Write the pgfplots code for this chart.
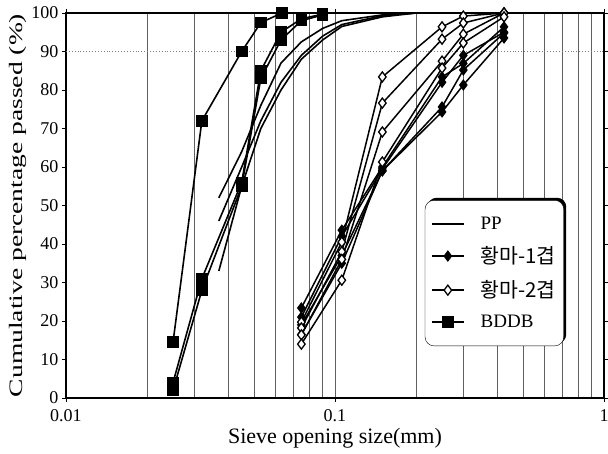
\documentclass[border=0pt]{standalone}
\usepackage{fontspec}
\setmainfont{Liberation Serif}
\newfontfamily\kr{Noto Sans CJK KR}
\usepackage{pgfplots}
\pgfplotsset{compat=1.18}
\usetikzlibrary{shadows}
\makeatletter
\tikzset{nopre/.code={\let\tikz@preactions\pgfutil@empty}}
\makeatother
\pgfplotsset{
  pp/.style={black, line width=1.6pt, no markers},
  fone/.style={black, line width=1.5pt, mark=diamond*, mark size=5pt, mark options={solid, fill=black, line width=1pt}},
  ftwo/.style={black, line width=1.5pt, mark=diamond*, mark size=5pt, mark options={solid, fill=white, line width=1.3pt}},
  bd/.style={black, line width=1.6pt, mark=square*, mark size=5pt, mark options={solid, fill=black}},
}
\begin{document}
\begin{tikzpicture}
\begin{semilogxaxis}[
  name=ax,
  scale only axis, width=538pt, height=385pt,
  xmin=0.01, xmax=1, ymin=0, ymax=100,
  xtick={0.01,0.1,1}, xticklabels={0.01,0.1,1},
  minor xtick={0.02,0.03,0.04,0.05,0.06,0.07,0.08,0.09,0.2,0.3,0.4,0.5,0.6,0.7,0.8,0.9},
  ytick={0,10,...,100},
  xmajorgrids, xminorgrids,
  major grid style={gray!75!black, line width=0.7pt},
  minor grid style={gray!75!black, line width=0.7pt},
  axis line style={line width=2pt},
  tick style={black, line width=0.8pt},
  tick align=outside, major tick length=4pt, minor tick length=0pt,
  /pgf/number format/assume math mode=true,
  ticklabel style={font=\fontsize{18}{20}\selectfont},
  xticklabel style={yshift=-4pt},
  xlabel={Sieve opening size(mm)},
  ylabel={\scalebox{1.45}[1]{Cumulative percentage passed (\%)}},
  xlabel style={font=\fontsize{22}{24}\selectfont, yshift=0pt},
  ylabel style={font=\fontsize{19}{21}\selectfont, yshift=-2pt},
  every mark/.append style={sharp corners},
  legend cell align=left,
  legend image code/.code={\draw[nopre, mark repeat=2, mark phase=2, sharp corners, #1] plot coordinates {(0pt,0pt) (16pt,0pt) (32pt,0pt)};},
  legend image post style={line width=1.6pt},
  legend style={at={(0.667,0.514)}, anchor=north west, font=\fontsize{19}{21}\selectfont,
    draw=black, rounded corners=9pt, fill=white,
    general shadow={fill=black, shadow xshift=2.5pt, shadow yshift=2.5pt},
    inner xsep=6pt, inner ysep=15pt, row sep=11.5pt, column sep=14pt},
]
\draw[gray, dotted, line width=0.9pt] (axis cs:0.01,90) -- (axis cs:1,90);

% PP
\addplot[pp] coordinates {(0.037,52) (0.045,64) (0.053,76) (0.063,87) (0.075,92.5) (0.09,96) (0.106,98) (0.15,99.5) (0.2,100)};
\addlegendentry{PP}
\addplot[pp, forget plot] coordinates {(0.037,46) (0.045,60) (0.053,72) (0.063,82) (0.075,89) (0.09,94) (0.106,97) (0.15,99.3) (0.2,100)};
\addplot[pp, forget plot] coordinates {(0.037,33) (0.045,55) (0.053,70) (0.063,80) (0.075,88) (0.09,93) (0.106,96.5) (0.15,99) (0.2,100)};

% 1-layer (filled diamonds)
\addplot[fone] coordinates {(0.075,23.4) (0.106,43.6) (0.15,60) (0.25,83.4) (0.3,86.9) (0.425,96.4)};
\addlegendentry{\fontsize{20.5}{21}\selectfont\kr 황마-1겹}
\addplot[fone, forget plot] coordinates {(0.075,21) (0.106,42) (0.15,59.5) (0.25,82) (0.3,89) (0.425,95)};
\addplot[fone, forget plot] coordinates {(0.075,19) (0.106,37) (0.15,59) (0.25,75.6) (0.3,85.2) (0.425,94.8)};
\addplot[fone, forget plot] coordinates {(0.075,16.5) (0.106,35) (0.15,59) (0.25,74.3) (0.3,81.3) (0.425,93.5)};

% 2-layer (open diamonds)
\addplot[ftwo] coordinates {(0.075,19.7) (0.106,40.5) (0.15,83.4) (0.25,96.4) (0.3,99.2) (0.425,100)};
\addlegendentry{\fontsize{20.5}{21}\selectfont\kr 황마-2겹}
\addplot[ftwo, forget plot] coordinates {(0.075,18.2) (0.106,38) (0.15,76.6) (0.25,93.2) (0.3,97.4) (0.425,100)};
\addplot[ftwo, forget plot] coordinates {(0.075,16.4) (0.106,36) (0.15,69.1) (0.25,87.5) (0.3,94.5) (0.425,100)};
\addplot[ftwo, forget plot] coordinates {(0.075,14) (0.106,30.6) (0.15,61.3) (0.25,85.7) (0.3,92.2) (0.425,99)};

% BDDB
\addplot[bd] coordinates {(0.025,14.5) (0.032,72) (0.045,90) (0.053,97.5) (0.0635,100)};
\addlegendentry{BDDB}
\addplot[bd, forget plot] coordinates {(0.025,4) (0.032,31) (0.045,56) (0.053,85) (0.063,95) (0.075,98.5) (0.09,99.7)};
\addplot[bd, forget plot] coordinates {(0.025,2) (0.032,28) (0.045,55) (0.053,83) (0.063,93) (0.075,98) (0.09,99.5)};
\end{semilogxaxis}
\pgfresetboundingbox
\path ([shift={(-66pt,-55pt)}]ax.south west) rectangle ([shift={(4pt,13pt)}]ax.north east);
\end{tikzpicture}
\end{document}
